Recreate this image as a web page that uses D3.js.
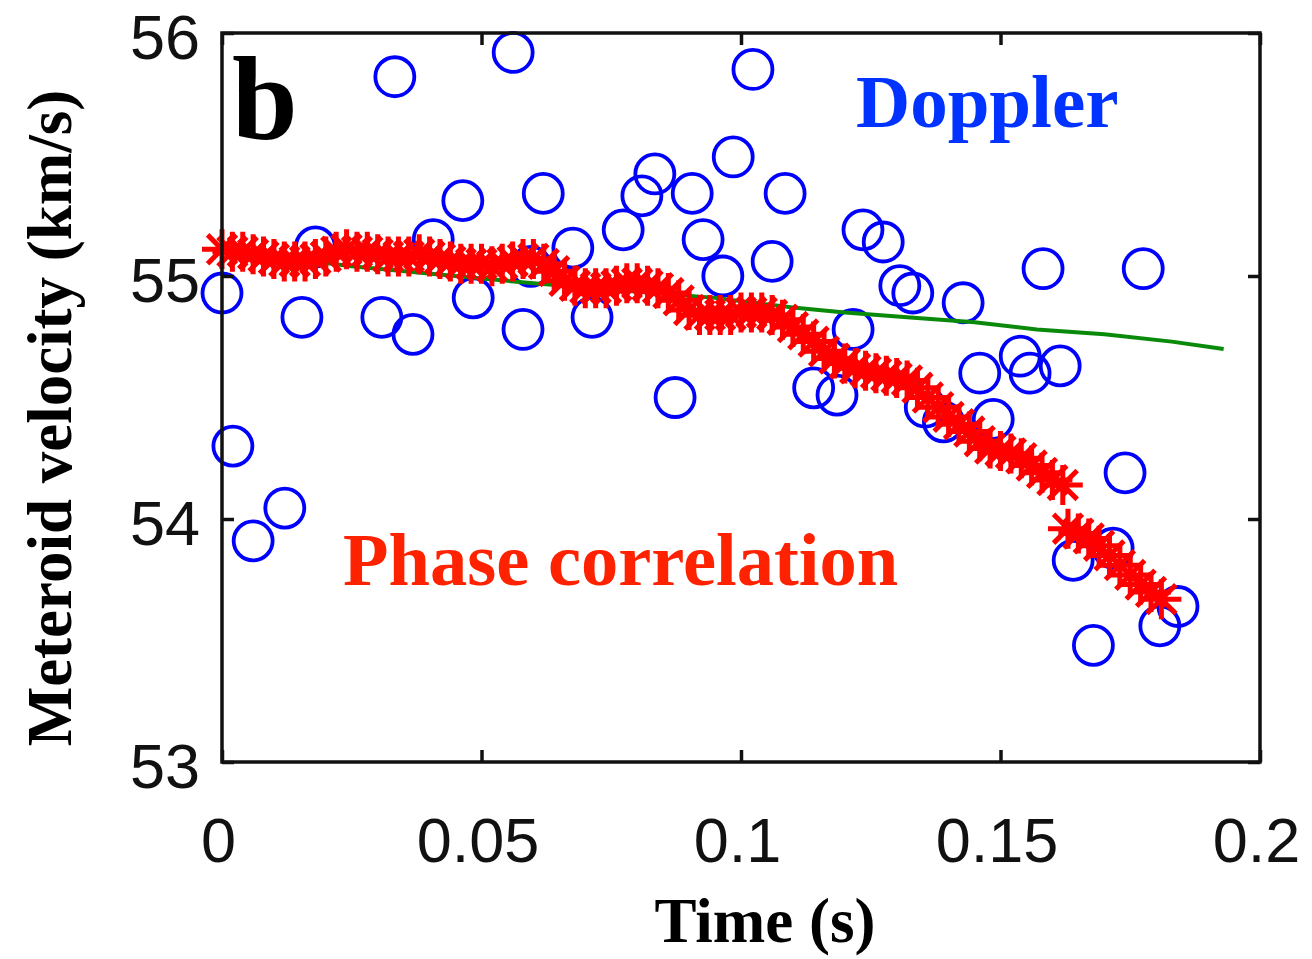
<!DOCTYPE html>
<html>
<head>
<meta charset="utf-8">
<script src="https://cdn.jsdelivr.net/npm/d3@7"></script>
<style>
body {margin:0; background:white;}
.tick text {font-family:"Liberation Sans", Arial, sans-serif; font-size:63px; fill:#111;}
.label {font-family:"Liberation Serif", "Times New Roman", serif; font-weight:bold;}
</style>
</head>
<body>
<svg id="graph2"></svg>
<script>
//tick values and labels
var xTicks = [0, 0.05, 0.1, 0.15, 0.2];
var xTickLabels = ["0", "0.05", "0.1", "0.15", "0.2"];
var yTicks = [53, 54, 55, 56];
var yTickLabels = ["53", "54", "55", "56"];

//Doppler measurements (blue circles)
var dopplerTime = [0.000, 0.0021, 0.0060, 0.0121, 0.0154, 0.018, 0.0308, 0.0368, 0.0333, 0.0464,
                   0.0407, 0.0484, 0.0561, 0.0619, 0.058, 0.0595, 0.0676, 0.0713, 0.0773, 0.0809,
                   0.0834, 0.0906, 0.0927, 0.0965, 0.0985, 0.1023, 0.106, 0.1085, 0.0873, 0.1216,
                   0.1235, 0.1274, 0.1306, 0.1331, 0.1428, 0.1582, 0.1775, 0.146, 0.1538, 0.1557,
                   0.1615, 0.114, 0.1185, 0.1355, 0.139, 0.1486, 0.174, 0.164, 0.1679, 0.1717,
                   0.1842, 0.1807];
var dopplerVel = [54.93, 54.30, 53.91, 54.045, 54.83, 55.12, 54.83, 54.76, 55.82, 55.31,
                  55.15, 54.91, 55.92, 55.34, 54.78, 55.04, 55.115, 54.83, 55.19, 55.33,
                  55.42, 55.34, 55.15, 55.00, 55.49, 55.85, 55.06, 55.34, 54.50, 54.78,
                  55.19, 55.14, 54.96, 54.93, 54.89, 55.03, 55.03, 54.60, 54.67, 54.60,
                  54.63, 54.54, 54.51, 54.46, 54.40, 54.41, 54.19, 53.83, 53.48, 53.88,
                  53.64, 53.56];

//phase correlation measurements (red stars)
var phaseTime = [0.000, 0.002, 0.004, 0.006, 0.008, 0.010, 0.012, 0.014, 0.016, 0.018,
                 0.020, 0.022, 0.024, 0.026, 0.028, 0.030, 0.032, 0.034, 0.036, 0.038,
                 0.040, 0.042, 0.044, 0.046, 0.048, 0.050, 0.052, 0.054, 0.056, 0.058,
                 0.060, 0.062, 0.064, 0.066, 0.068, 0.070, 0.072, 0.074, 0.076, 0.078,
                 0.080, 0.082, 0.084, 0.086, 0.088, 0.090, 0.092, 0.094, 0.096, 0.098,
                 0.100, 0.102, 0.104, 0.106, 0.108, 0.110, 0.112, 0.114, 0.116, 0.118,
                 0.120, 0.122, 0.124, 0.126, 0.128, 0.130, 0.132, 0.134, 0.136, 0.138,
                 0.140, 0.142, 0.144, 0.146, 0.148, 0.150, 0.152, 0.154, 0.156, 0.158,
                 0.160, 0.162,
                 0.163, 0.165, 0.167, 0.169, 0.171, 0.173, 0.175, 0.177, 0.179, 0.181];
var phaseVel = [55.11, 55.10, 55.10, 55.09, 55.08, 55.07, 55.06, 55.06, 55.06, 55.07,
                55.08, 55.10, 55.11, 55.10, 55.10, 55.09, 55.08, 55.08, 55.08, 55.09,
                55.08, 55.07, 55.06, 55.05, 55.05, 55.05, 55.04, 55.05, 55.06, 55.07,
                55.07, 55.05, 55.02, 54.98, 54.96, 54.95, 54.95, 54.95, 54.96, 54.97,
                54.97, 54.96, 54.95, 54.93, 54.90, 54.86, 54.84, 54.84, 54.84, 54.84,
                54.85, 54.85, 54.85, 54.84, 54.82, 54.79, 54.76, 54.73, 54.69, 54.66,
                54.64, 54.62, 54.61, 54.60, 54.59, 54.58, 54.57, 54.54, 54.50, 54.46,
                54.42, 54.39, 54.36, 54.32, 54.29, 54.28, 54.27, 54.25, 54.22, 54.19,
                54.16, 54.14,
                53.96, 53.94, 53.92, 53.89, 53.85, 53.81, 53.77, 53.73, 53.70, 53.67];

//fitted curve (green line)
var fitTime = [0, 0.01, 0.025, 0.05, 0.06, 0.095, 0.11, 0.12, 0.132, 0.145, 0.157, 0.17, 0.183, 0.193];
var fitVel = [55.10, 55.08, 55.04, 54.99, 54.97, 54.91, 54.87, 54.85, 54.83, 54.81, 54.78, 54.76, 54.73, 54.70];


//path of a matlab style asterisk, r is the half size
var starPath = function(r)
{
    var d = r*0.72;
    return "M"+(-r)+",0L"+r+",0"+
           "M0,"+(-r)+"L0,"+r+
           "M"+(-d)+","+(-d)+"L"+d+","+d+
           "M"+(-d)+","+d+"L"+d+","+(-d);
}

var drawMarks = function(target,xScale,yScale)
{
    //circles go first, stars cover them
    target.append("g")
        .selectAll("circle")
        .data(dopplerTime)
        .enter()
        .append("circle")
        .attr("cx", function(t){return xScale(t);})
        .attr("cy", function(t,i){return yScale(dopplerVel[i]);})
        .attr("r", 19.5)
        .attr("fill", "none")
        .attr("stroke", "#0000ff")
        .attr("stroke-width", 3.8)

    var lineGenerator = d3.line()
        .x(function(t){return xScale(t);})
        .y(function(t,i){return yScale(fitVel[i]);})

    target.append("path")
        .datum(fitTime)
        .attr("d", lineGenerator)
        .attr("fill", "none")
        .attr("stroke", "#0a8a0a")
        .attr("stroke-width", 4)

    target.append("g")
        .selectAll("path")
        .data(phaseTime)
        .enter()
        .append("path")
        .attr("d", starPath(20))
        .attr("transform", function(t,i)
              {
                return makeTranslateString(xScale(t), yScale(phaseVel[i]));
              })
        .attr("fill", "none")
        .attr("stroke", "#ff0000")
        .attr("stroke-width", 5)
}

var makeTranslateString = function(x,y)
{
    return "translate("+x+","+y+")";
}

var drawAxes = function(graphDim,margins,xScale,yScale)
{
    var svg = d3.select("#graph2");

    var xAxis = d3.axisBottom(xScale)
        .tickValues(xTicks)
        .tickSize(-12)
        .tickFormat(function(d,i){return xTickLabels[i];})
    var gx = svg.append("g")
        .attr("transform", makeTranslateString(margins.left, margins.top+graphDim.height))
        .call(xAxis)
    gx.selectAll("text").attr("y", 100).attr("dy", 0).attr("dx", -4)

    var yAxis = d3.axisLeft(yScale)
        .tickValues(yTicks)
        .tickSize(-12)
        .tickPadding(22)
        .tickFormat(function(d,i){return yTickLabels[i];})
    var gy = svg.append("g")
        .attr("transform", makeTranslateString(margins.left, margins.top))
        .call(yAxis)
    gy.selectAll("text").attr("dy", "0.4em")

    svg.append("g")
        .attr("transform", makeTranslateString(margins.left, margins.top))
        .call(d3.axisTop(xScale).tickValues(xTicks).tickSize(-12).tickFormat(""))
    svg.append("g")
        .attr("transform", makeTranslateString(margins.left+graphDim.width, margins.top))
        .call(d3.axisRight(yScale).tickValues(yTicks).tickSize(-12).tickFormat(""))

    svg.selectAll(".domain").remove()
    svg.selectAll(".tick line").attr("stroke", "#111").attr("stroke-width", 3.5)

    svg.append("rect")
        .attr("x", margins.left)
        .attr("y", margins.top)
        .attr("width", graphDim.width)
        .attr("height", graphDim.height)
        .attr("fill", "none")
        .attr("stroke", "#111")
        .attr("stroke-width", 3.5)
}

var drawLabels = function(graphDim,margins)
{
    var labels = d3.select("#graph2")
        .append("g")

    labels.append("text")
        .classed("label", true)
        .text("b")
        .attr("x", 232)
        .attr("y", 138)
        .attr("font-size", 118)
        .attr("fill", "black")

    labels.append("text")
        .classed("label", true)
        .text("Doppler")
        .attr("x", 856)
        .attr("y", 127)
        .attr("font-size", 75)
        .attr("fill", "#0033ff")

    labels.append("text")
        .classed("label", true)
        .text("Phase correlation")
        .attr("x", 343)
        .attr("y", 585)
        .attr("font-size", 74.5)
        .attr("fill", "#ff2200")

    labels.append("text")
        .classed("label", true)
        .text("Time (s)")
        .attr("text-anchor", "middle")
        .attr("x", 765)
        .attr("y", 942)
        .attr("font-size", 63)

    labels.append("text")
        .classed("label", true)
        .text("Meteroid velocity (km/s)")
        .attr("text-anchor", "middle")
        .attr("font-size", 63)
        .attr("transform", "translate(71,418) rotate(-90)")
}

var initGraph = function()
{
    var screen = {width:1312, height:959}
    var margins = {left:222, right:52, top:33, bottom:197}

    var graph =
        {
            width:screen.width-margins.left-margins.right,
            height:screen.height-margins.top-margins.bottom
        }

    d3.select("#graph2")
        .attr("width", screen.width)
        .attr("height", screen.height)

    var xScale = d3.scaleLinear()
        .domain([0, 0.2])
        .range([0, graph.width])

    var yScale = d3.scaleLinear()
        .domain([53, 56])
        .range([graph.height, 0])

    var target = d3.select("#graph2")
        .append("g")
        .attr("id", "graph")
        .attr("transform", makeTranslateString(margins.left, margins.top))

    drawMarks(target, xScale, yScale);
    drawAxes(graph, margins, xScale, yScale);
    drawLabels(graph, margins);
}

initGraph();
</script>
</body>
</html>
